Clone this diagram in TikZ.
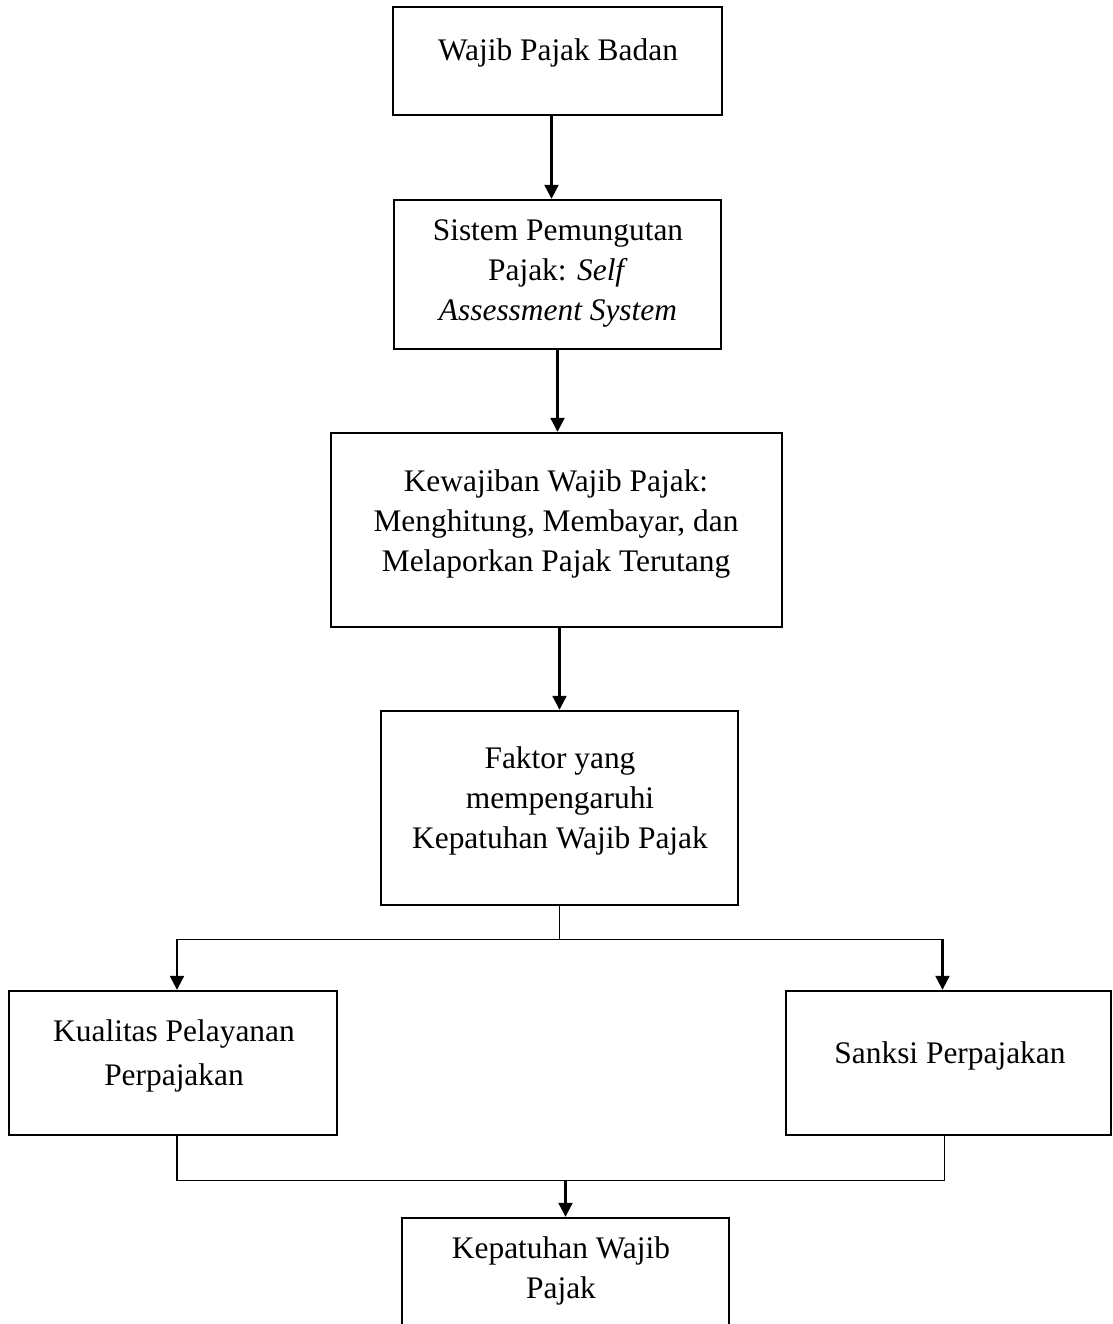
\documentclass[tikz,border=0pt]{standalone}
\usepackage{fontspec}
\setmainfont{Liberation Serif}
\usetikzlibrary{arrows.meta}
\usetikzlibrary{positioning}
\tikzset{
  box/.style={draw, line width=1.2pt, rectangle, inner sep=0pt},
  txt/.style={align=center, inner sep=0pt, font=\fontsize{15.7}{20}\selectfont},
  arr/.style={-{Triangle[length=7pt,width=7pt]}, line width=1.1pt},
  link/.style={line width=0.7pt},
}

\begin{document}
\begin{tikzpicture}[x=0.5pt,y=-0.5pt]
\useasboundingbox (0,0) rectangle (1113,1324);

\node[box, minimum width=164.5pt, minimum height=54pt] (A) at (557.5,61) {};
\node[box, minimum width=163.5pt, minimum height=74.5pt] (B) at (557.5,274.5) {};
\node[box, minimum width=225.5pt, minimum height=97pt] (C) at (556.5,530) {};
\node[box, minimum width=178.5pt, minimum height=97pt] (D) at (559.5,808) {};
\node[box, minimum width=164pt, minimum height=72pt] (E) at (173,1063) {};
\node[box, minimum width=162.5pt, minimum height=72pt] (F) at (948.5,1063) {};
\node[box, minimum width=163.5pt, minimum height=61pt] (G) at (565.5,1279) {};

%
\node[txt] (a) at (558,53) {Wajib Pajak Badan};
\node[txt] (b) at (558,273) {Sistem Pemungutan\\Pajak: \textit{Self}\\\textit{Assessment System}};
\node[txt] (c) at (556,524) {Kewajiban Wajib Pajak:\\Menghitung, Membayar, dan\\Melaporkan Pajak Terutang};
\node[txt] (d) at (560,801) {Faktor yang\\mempengaruhi\\Kepatuhan Wajib Pajak};
\node[txt] (e) at (174,1056) {Kualitas Pelayanan\\[2pt]Perpajakan};
\node[txt] (f) at (950,1056) {Sanksi Perpajakan};
\node[txt] (g) at (561,1271) {Kepatuhan Wajib\\Pajak};

%
\draw [arr] ([xshift=-3pt]A.south) -- ([xshift=-3pt]A.south |- B.north);
\draw [arr] (B.south) -- (B.south |- C.north);
\draw [arr] (D.north |- C.south) -- (D.north);

\draw [link] (D.south) -- ++(0,33) coordinate (split);
\draw [link] ([xshift=2pt]E.north |- split) -- ([xshift=-3pt]F.north |- split);
\draw [arr] ([xshift=2pt]E.north |- split) -- ([xshift=2pt]E.north);
\draw [arr] ([xshift=-3pt]F.north |- split) -- ([xshift=-3pt]F.north);

\draw [link] ([xshift=2pt]E.south) -- ++(0,44) coordinate (join) -- ([xshift=-2pt]F.south |- join) -- ([xshift=-2pt]F.south);
\draw [arr] (G.north |- join) -- (G.north);
\end{tikzpicture}
\end{document}
